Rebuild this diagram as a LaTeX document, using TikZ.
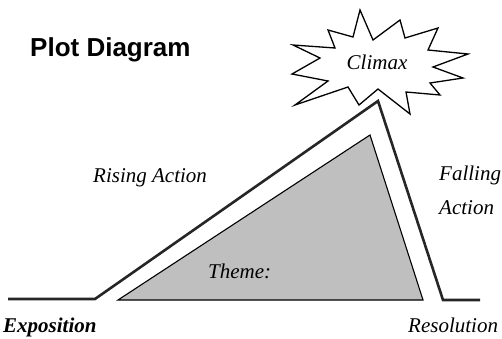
\documentclass[tikz,border=0pt]{standalone}
\usepackage{fontspec}
\setmainfont{Liberation Serif}
\newfontfamily\titlefont{Liberation Sans}
\usepackage{tikz}
\usepackage{xcolor}
\usetikzlibrary{calc}

\begin{document}
\begin{tikzpicture}[x=1pt,y=-1pt,font=\fontsize{21}{34}\selectfont\itshape]
% Styles: plot line, theme area, burst and labels
\tikzstyle{plot line}=[draw=black!85,line width=2.6pt,line join=miter];
\tikzstyle{theme area}=[draw=black,line width=1.1pt,fill=gray!50,line join=miter];
\tikzstyle{burst}=[draw=black,line width=1.3pt,fill=white,line join=miter];
\tikzstyle{label}=[inner sep=0,anchor=base west];
\useasboundingbox (0,0) rectangle (502,339);
% The plot line
\coordinate (start) at (8,299);
\coordinate (rise) at (95,299);
\coordinate (peak) at (378,101);
\coordinate (fall) at (443,300);
\coordinate (end) at (480,300);
\draw[plot line](start)--(rise)--(peak)--(fall)--(end);
% Theme triangle
\coordinate (t1) at (118,300);
\coordinate (t2) at (370,135);
\coordinate (t3) at (423,300);
\draw[theme area](t1)--(t2)--(t3)--cycle;
% Climax burst
\draw[burst](360,10)--(373,40)--(400,20)--(405,38)--(438,28)--(428,50)--(468,54)--(433,67)
--(463,78)--(430,83)--(440,95)--(406,92)--(410,114)--(378,89)--(359,105)--(348,87)
--(295,105)--(328,81)--(292,74)--(320,58)--(293,45)--(335,48)--(328,30)--(353,37)--cycle;
% Labels
\node(title)[label,font=\titlefont\bfseries\fontsize{26}{30}\selectfont] at (30,57){Plot Diagram};
\node(climax)[inner sep=0,anchor=base] at (377,70){Climax};
\node(rising)[label] at (93,182){Rising Action};
\node(falling)[inner sep=0,anchor=north west,align=left] at (439,166){Falling\\Action};
\node(theme)[label] at (208,278){Theme:};
\node(expo)[label,font=\fontsize{21}{25}\selectfont\bfseries\itshape] at (3,332){Exposition};
\node(reso)[label] at (408,332){Resolution};
\end{tikzpicture}
\end{document}
